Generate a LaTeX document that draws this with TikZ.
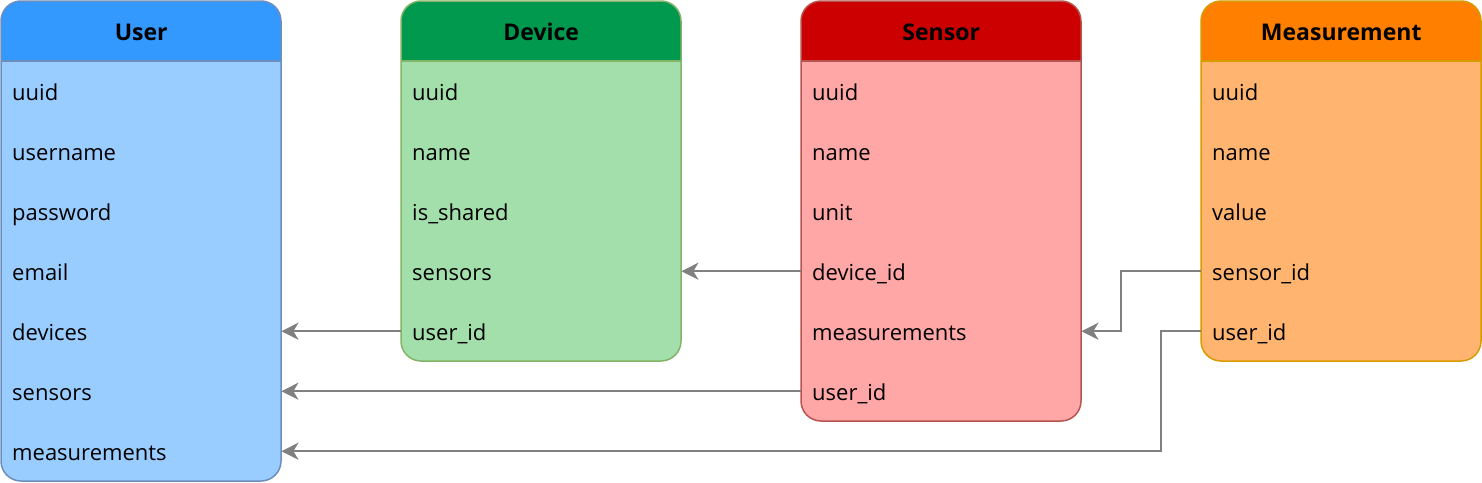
\documentclass[tikz,border=0pt]{standalone}
\usepackage{fontspec}
\setmainfont{Open Sans}
\usetikzlibrary{arrows.meta}
\definecolor{uH}{HTML}{3399FF}\definecolor{uB}{HTML}{99CCFF}\definecolor{uS}{HTML}{6C8EBF}
\definecolor{dH}{HTML}{00994D}\definecolor{dB}{HTML}{A3DFAA}\definecolor{dS}{HTML}{82B366}
\definecolor{sH}{HTML}{CC0000}\definecolor{sB}{HTML}{FFA6A6}\definecolor{sS}{HTML}{B85450}
\definecolor{mH}{HTML}{FF8000}\definecolor{mB}{HTML}{FFB570}\definecolor{mS}{HTML}{D79B00}
\definecolor{conn}{HTML}{808080}
\tikzset{
  rowtxt/.style={minimum width=280pt, minimum height=60pt, text width=258pt, inner xsep=11pt, inner ysep=0pt, text height=20pt, text depth=2pt, align=left, anchor=north west, font=\fontsize{22}{24}\selectfont},
  headtxt/.style={minimum width=280pt, minimum height=60pt, inner ysep=0pt, text height=20pt, text depth=2pt, anchor=north west, font=\bfseries\fontsize{23}{26}\selectfont},
  conn/.style={draw=conn, line width=2pt, -{Stealth[length=17pt,width=17pt,inset=5pt]}}
}
\newcommand{\erbox}[5]{% x, rows, head, body, stroke
  \begin{scope}
    \clip[rounded corners=20pt] (#1,1) rectangle ++(280,60+60*#2);
    \fill[#4] (#1,1) rectangle ++(280,60+60*#2);
    \fill[#3] (#1,1) rectangle ++(280,60);
  \end{scope}
  \draw[#5, line width=1.5pt] (#1,61) -- ++(280,0);
  \draw[#5, line width=1.5pt, rounded corners=20pt] (#1,1) rectangle ++(280,60+60*#2);
}
\begin{document}
\begin{tikzpicture}[x=1pt,y=-1pt]
\useasboundingbox (0,0) rectangle (1482,482);
\erbox{1}{7}{uH}{uB}{uS}
\erbox{401}{5}{dH}{dB}{dS}
\erbox{801}{6}{sH}{sB}{sS}
\erbox{1201}{5}{mH}{mB}{mS}
% User
\node[headtxt] (uh) at (1,1) {User};
\node[rowtxt] (u1) at (1,61) {uuid};
\node[rowtxt] (u2) at (1,121) {username};
\node[rowtxt] (u3) at (1,181) {password};
\node[rowtxt] (u4) at (1,241) {email};
\node[rowtxt] (u5) at (1,301) {devices};
\node[rowtxt] (u6) at (1,361) {sensors};
\node[rowtxt] (u7) at (1,421) {measurements};
% Device
\node[headtxt] (dh) at (401,1) {Device};
\node[rowtxt] (d1) at (401,61) {uuid};
\node[rowtxt] (d2) at (401,121) {name};
\node[rowtxt] (d3) at (401,181) {is\_shared};
\node[rowtxt] (d4) at (401,241) {sensors};
\node[rowtxt] (d5) at (401,301) {user\_id};
% Sensor
\node[headtxt] (sh) at (801,1) {Sensor};
\node[rowtxt] (s1) at (801,61) {uuid};
\node[rowtxt] (s2) at (801,121) {name};
\node[rowtxt] (s3) at (801,181) {unit};
\node[rowtxt] (s4) at (801,241) {device\_id};
\node[rowtxt] (s5) at (801,301) {measurements};
\node[rowtxt] (s6) at (801,361) {user\_id};
% Measurement
\node[headtxt] (mh) at (1201,1) {Measurement};
\node[rowtxt] (m1) at (1201,61) {uuid};
\node[rowtxt] (m2) at (1201,121) {name};
\node[rowtxt] (m3) at (1201,181) {value};
\node[rowtxt] (m4) at (1201,241) {sensor\_id};
\node[rowtxt] (m5) at (1201,301) {user\_id};
% connectors
\draw[conn] (d5.west) -- (u5.east);
\draw[conn] (s6.west) -- (u6.east);
\draw[conn] (s4.west) -- (d4.east);
\draw[conn] (m4.west) -- ++(-80,0) |- (s5.east);
\draw[conn] (m5.west) -- ++(-40,0) |- (u7.east);
\end{tikzpicture}
\end{document}
